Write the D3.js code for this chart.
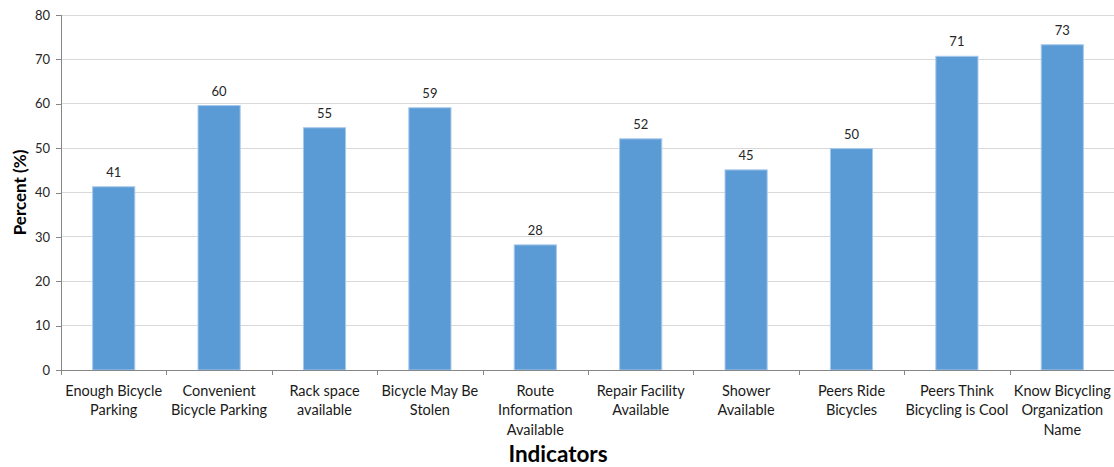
<!DOCTYPE html>
<html>
<head>
<meta charset="utf-8">
<script src="https://cdn.jsdelivr.net/npm/d3@7"></script>
<style>
  html, body { margin: 0; padding: 0; background: #fff; }
  svg { display: block; font-family: Lato, "Open Sans", sans-serif; }
</style>
</head>
<body>
<svg id="chart" width="1114" height="467"></svg>
<script>
// Category labels (line breaks as shown under the axis)
const categories = [
  ["Enough Bicycle", "Parking"],
  ["Convenient", "Bicycle Parking"],
  ["Rack space", "available"],
  ["Bicycle May Be", "Stolen"],
  ["Route", "Information", "Available"],
  ["Repair Facility", "Available"],
  ["Shower", "Available"],
  ["Peers Ride", "Bicycles"],
  ["Peers Think", "Bicycling is Cool"],
  ["Know Bicycling", "Organization", "Name"]
];
// Percent of respondents per indicator
const values = [41.3, 59.6, 54.6, 59.1, 28.2, 52.1, 45.1, 49.9, 70.7, 73.3];
const yTicks = [0, 10, 20, 30, 40, 50, 60, 70, 80];

const svg = d3.select("#chart");
const margin = { left: 61, right: -1, top: 15, bottom: 97 };
const W = 1114, H = 467;
const x0 = margin.left, x1 = W - margin.right;
const yTop = margin.top, yBot = H - margin.bottom;

const keys = categories.map((c, i) => i);
const x = d3.scaleBand().domain(keys).range([x0, x1]).padding(0);
const y = d3.scaleLinear().domain([0, 80]).range([yBot, yTop]);
const barW = x.bandwidth() * 0.4;

// Horizontal gridlines
svg.append("g")
  .selectAll("line")
  .data(yTicks.filter(t => t > 0))
  .join("line")
  .attr("x1", x0).attr("x2", x1)
  .attr("y1", d => y(d)).attr("y2", d => y(d))
  .attr("stroke", "#d9d9d9").attr("stroke-width", 1)
  .attr("shape-rendering", "crispEdges");

// Y axis
const yAxis = svg.append("g")
  .attr("transform", `translate(${x0},0)`)
  .call(d3.axisLeft(y).tickValues(yTicks).tickSize(5).tickPadding(6));
yAxis.select(".domain").attr("stroke", "#868686").attr("shape-rendering", "crispEdges");
yAxis.selectAll(".tick line").attr("stroke", "#868686").attr("shape-rendering", "crispEdges");
yAxis.selectAll(".tick text")
  .attr("font-family", "Lato, 'Open Sans', sans-serif")
  .attr("font-size", 13).attr("fill", "#262626");

// Bars
svg.append("g")
  .selectAll("rect")
  .data(values)
  .join("rect")
  .attr("x", (d, i) => x(i) + (x.bandwidth() - barW) / 2)
  .attr("y", d => y(d))
  .attr("width", barW)
  .attr("height", d => y(0) - y(d))
  .attr("fill", "#5b9bd5")
  .attr("stroke", "#a9c9ec")
  .attr("stroke-width", 1);

// Value labels
svg.append("g")
  .selectAll("text")
  .data(values)
  .join("text")
  .attr("x", (d, i) => x(i) + x.bandwidth() / 2)
  .attr("y", d => y(d) - 10)
  .attr("text-anchor", "middle")
  .attr("font-size", 13)
  .attr("fill", "#262626")
  .text(d => d3.format(".0f")(d));

// X axis line and category boundary ticks
const xAxis = svg.append("g");
xAxis.append("line")
  .attr("x1", x0).attr("x2", x1)
  .attr("y1", yBot + 0.5).attr("y2", yBot + 0.5)
  .attr("stroke", "#868686");
xAxis.selectAll("line.tk")
  .data(keys)
  .join("line")
  .attr("class", "tk")
  .attr("x1", d => Math.round(x(d)) + 0.5).attr("x2", d => Math.round(x(d)) + 0.5)
  .attr("y1", yBot).attr("y2", yBot + 5)
  .attr("stroke", "#868686");

// Category labels
const catLabels = svg.append("g")
  .selectAll("text")
  .data(categories)
  .join("text")
  .attr("x", (d, i) => x(i) + x.bandwidth() / 2)
  .attr("y", yBot + 26)
  .attr("text-anchor", "middle")
  .attr("font-size", 14.5)
  .attr("fill", "#1a1a1a");
catLabels.selectAll("tspan")
  .data(d => d)
  .join("tspan")
  .attr("x", function () { return d3.select(this.parentNode).attr("x"); })
  .attr("dy", (d, i) => i === 0 ? 0 : 19.3)
  .text(d => d);

// Axis titles
svg.append("text")
  .attr("x", 558).attr("y", 462)
  .attr("text-anchor", "middle")
  .attr("font-size", 22.5).attr("font-weight", "bold")
  .attr("fill", "#000")
  .text("Indicators");

svg.append("text")
  .attr("transform", `translate(26,${(yTop + yBot) / 2}) rotate(-90)`)
  .attr("text-anchor", "middle")
  .attr("font-size", 17).attr("font-weight", "bold")
  .attr("fill", "#000")
  .text("Percent (%)");
</script>
</body>
</html>
